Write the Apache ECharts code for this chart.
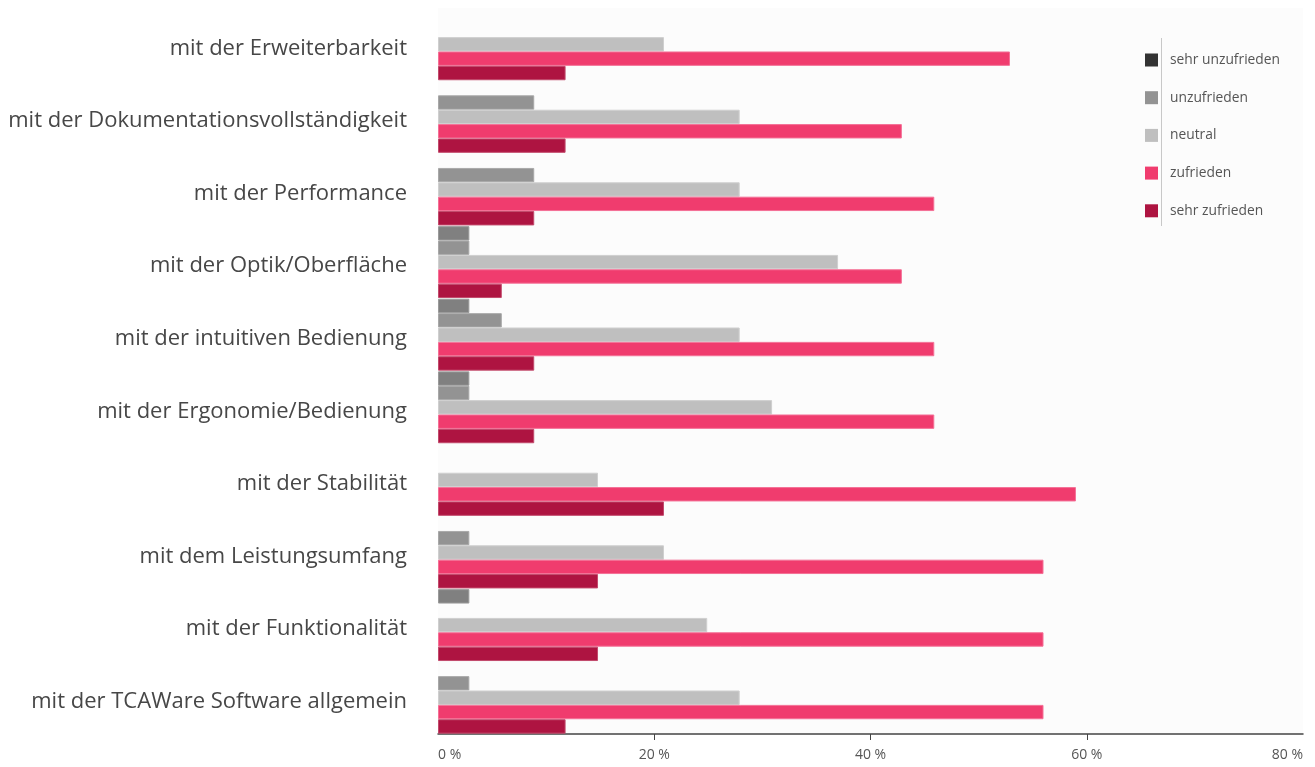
<!DOCTYPE html>
<html>
<head>
<meta charset="utf-8">
<script src="https://cdn.jsdelivr.net/npm/echarts@6/dist/echarts.min.js"></script>
<style>
  html, body { margin: 0; padding: 0; background: #ffffff; }
  #chart { width: 1315px; height: 767px; }
</style>
</head>
<body>
<div id="chart"></div>
<script>
// Zufriedenheit mit der Software, Anteile in Prozent
const categories = [
  'mit der Erweiterbarkeit',
  'mit der Dokumentationsvollständigkeit',
  'mit der Performance',
  'mit der Optik/Oberfläche',
  'mit der intuitiven Bedienung',
  'mit der Ergonomie/Bedienung',
  'mit der Stabilität',
  'mit dem Leistungsumfang',
  'mit der Funktionalität',
  'mit der TCAWare Software allgemein'
];

const seriesNames = ['sehr unzufrieden', 'unzufrieden', 'neutral', 'zufrieden', 'sehr zufrieden'];

const sehrUnzufrieden = [null, null, null, 2.9, 2.9, 2.9, null, null, 2.9, null];
const unzufrieden     = [null, 8.9, 8.9, 2.9, 5.9, 2.9, null, 2.9, null, 2.9];
const neutral         = [20.9, 27.9, 27.9, 37.0, 27.9, 30.9, 14.8, 20.9, 24.9, 27.9];
const zufrieden       = [52.9, 42.9, 45.9, 42.9, 45.9, 45.9, 59.0, 56.0, 56.0, 56.0];
const sehrZufrieden   = [11.8, 11.8, 8.9, 5.9, 8.9, 8.9, 20.9, 14.8, 14.8, 11.8];

const xTicks = [0, 20, 40, 60, 80];

const barColors    = ['#808080', '#939393', '#bfbfbf', '#f03c6e', '#ae1441'];
const legendColors = ['#333333', '#939393', '#bfbfbf', '#f03c6e', '#ae1441'];
const borderColors = ['#9a9a9a', '#a8a8a8', '#cfcfcf', '#f47096', '#c24a6c'];

const values = [sehrUnzufrieden, unzufrieden, neutral, zufrieden, sehrZufrieden];

const FONT = 'Open Sans';

// pick the category label size so the longest label spans the left margin
function fitFontSize(text, family, targetWidth) {
  const ctx = document.createElement('canvas').getContext('2d');
  ctx.font = '100px "' + family + '"';
  return Math.round(100 * targetWidth / ctx.measureText(text).width * 10) / 10;
}
const longest = categories.reduce((a, b) => (b.length > a.length ? b : a));
const labelSize = Math.min(22.5, Math.max(17, fitFontSize(longest, FONT, 399)));

const chart = echarts.init(document.getElementById('chart'), null, { renderer: 'canvas' });

chart.setOption({
  animation: false,
  backgroundColor: '#ffffff',
  grid: {
    left: 438, right: 12, top: 8, bottom: 33,
    show: true, backgroundColor: '#fcfcfc', borderWidth: 0
  },
  legend: {
    orient: 'vertical',
    left: 1140, top: 48,
    itemWidth: 13, itemHeight: 13, itemGap: 23.7,
    icon: 'rect',
    textStyle: { fontFamily: FONT, fontSize: 13.8, color: '#555', padding: [0, 0, 0, 7] },
    data: seriesNames.map((n, i) => ({ name: n, itemStyle: { color: legendColors[i], borderWidth: 0 } }))
  },
  graphic: [{
    type: 'line',
    shape: { x1: 1161.5, y1: 38, x2: 1161.5, y2: 226 },
    style: { stroke: '#c8c8c8', lineWidth: 1 },
    silent: true
  }],
  xAxis: {
    type: 'value',
    min: xTicks[0], max: xTicks[xTicks.length - 1], interval: 20,
    axisLine: { show: true, lineStyle: { color: '#444', width: 1.5 } },
    axisTick: { show: true, length: 6, lineStyle: { color: '#444' }, customValues: xTicks.slice(1, -1) },
    splitLine: { show: false },
    axisLabel: {
      fontFamily: FONT, fontSize: 14, color: '#555', margin: 14,
      alignMinLabel: 'left', alignMaxLabel: 'right',
      formatter: v => v + ' %'
    }
  },
  yAxis: {
    type: 'category',
    inverse: true,
    data: categories,
    axisLine: { show: false },
    axisTick: { show: false },
    axisLabel: {
      margin: 31,
      formatter: v => '{c|' + v + '}',
      rich: {
        c: { fontFamily: FONT, fontSize: labelSize, color: '#474747', padding: [8, 0, 0, 0] }
      }
    }
  },
  series: seriesNames.map((n, i) => ({
    name: n,
    type: 'bar',
    data: values[i],
    barGap: '0%',
    barCategoryGap: '1%',
    itemStyle: { color: barColors[i], borderColor: borderColors[i], borderWidth: 1 }
  }))
});
</script>
</body>
</html>
